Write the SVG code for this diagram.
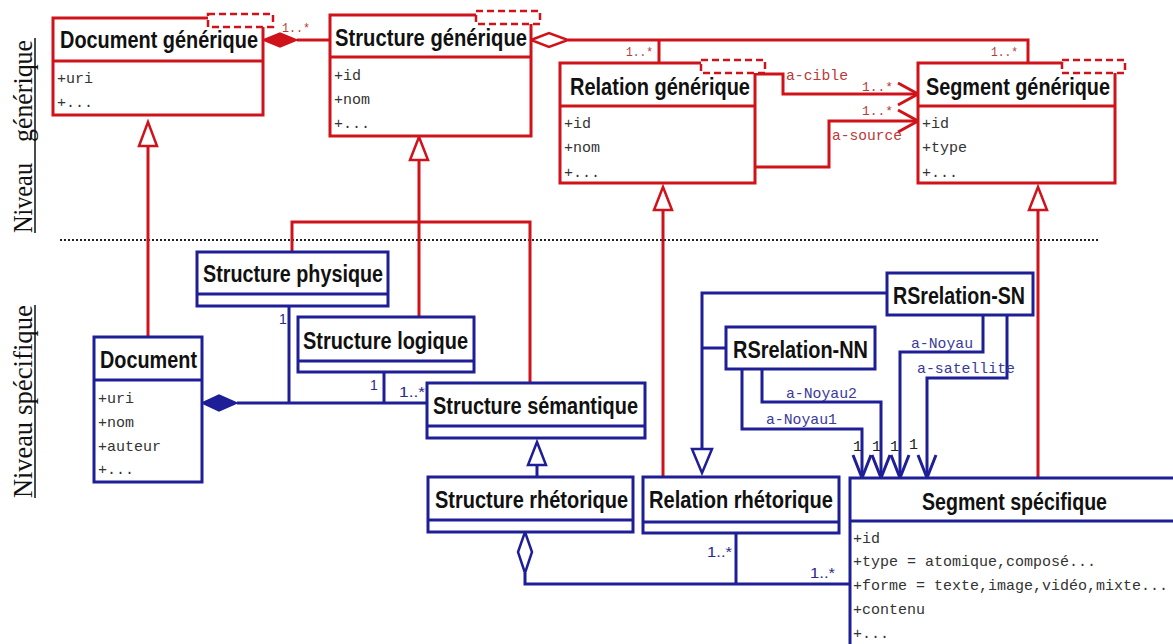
<svg xmlns="http://www.w3.org/2000/svg" width="1173" height="644" viewBox="0 0 1173 644">
<style>
.rbox{fill:#fff;stroke:#d0121b;stroke-width:3}
.bbox{fill:#fff;stroke:#1e1e96;stroke-width:3}
.rdiv{stroke:#d0121b;stroke-width:3}
.bdiv{stroke:#1e1e96;stroke-width:3}
.dash{fill:#fff;stroke:#d0121b;stroke-width:2.5;stroke-dasharray:7 4}
.title{font-family:"Liberation Sans",Arial,sans-serif;font-weight:bold;font-size:21px;fill:#111}
.attr{font-family:"Liberation Mono","Courier New",monospace;font-size:15px;fill:#333}
.rlab{font-family:"Liberation Mono","Courier New",monospace;font-size:15px;fill:#b83a3a}
.rmul{font-family:"Liberation Mono","Courier New",monospace;font-size:13px;fill:#b83a3a}
.blab{font-family:"Liberation Mono","Courier New",monospace;font-size:15px;fill:#3a3a9a}
.bmul{font-family:"Liberation Sans",Arial,sans-serif;font-size:14px;fill:#2a2a8a}
.one{font-family:"Liberation Mono","Courier New",monospace;font-size:15px;fill:#222}
.rl{fill:none;stroke:#d0121b;stroke-width:3}
.bl{fill:none;stroke:#1e1e96;stroke-width:3}
.rtri{fill:#fff;stroke:#d0121b;stroke-width:2.5}
.btri{fill:#fff;stroke:#1e1e96;stroke-width:2.5}
.lvl{font-family:"Liberation Serif","Times New Roman",serif;font-size:28px;fill:#111}
</style>

<g id="levels">
  <text class="lvl" transform="translate(32,233) rotate(-90)" textLength="70" lengthAdjust="spacingAndGlyphs">Niveau</text>
  <text class="lvl" transform="translate(32,142) rotate(-90)" textLength="102" lengthAdjust="spacingAndGlyphs">générique</text>
  <line x1="35" y1="38" x2="35" y2="233" stroke="#111" stroke-width="1.5"/>
  <text class="lvl" transform="translate(32,498) rotate(-90)" textLength="76" lengthAdjust="spacingAndGlyphs">Niveau</text>
  <text class="lvl" transform="translate(32,415) rotate(-90)" textLength="110" lengthAdjust="spacingAndGlyphs">spécifique</text>
  <line x1="35" y1="305" x2="35" y2="498" stroke="#111" stroke-width="1.5"/>
  <line x1="60" y1="240" x2="1100" y2="240" stroke="#222" stroke-width="2" stroke-dasharray="2 2"/>
</g>

<g id="connectors">
  <!-- generic level -->
  <line class="rl" x1="297" y1="40" x2="330" y2="40"/>
  <polygon points="263,40 280,33 297,40 280,47" fill="#d0121b" stroke="#d0121b" stroke-width="1.5"/>
  <text class="rmul" x="282" y="32" textLength="28" lengthAdjust="spacingAndGlyphs">1..*</text>
  <polyline class="rl" points="568,40 1028,40 1028,63"/>
  <line class="rl" x1="659" y1="40" x2="659" y2="63"/>
  <polygon points="531,40 549,33 568,40 549,47" fill="#fff" stroke="#d0121b" stroke-width="2.5"/>
  <text class="rmul" x="626" y="56" textLength="27" lengthAdjust="spacingAndGlyphs">1..*</text>
  <text class="rmul" x="991" y="56" textLength="27" lengthAdjust="spacingAndGlyphs">1..*</text>
  <polyline class="rl" points="755,74 783,74 783,94 918,94"/>
  <polyline class="rl" points="898,83 918,94 898,105"/>
  <polyline class="rl" points="755,167 829,167 829,121 918,121"/>
  <polyline class="rl" points="898,110 918,121 898,132"/>
  <text class="rlab" x="786" y="80" textLength="62" lengthAdjust="spacingAndGlyphs">a-cible</text>
  <text class="rmul" x="862" y="91" textLength="31" lengthAdjust="spacingAndGlyphs">1..*</text>
  <text class="rmul" x="862" y="115" textLength="31" lengthAdjust="spacingAndGlyphs">1..*</text>
  <text class="rlab" x="832" y="140" textLength="70" lengthAdjust="spacingAndGlyphs">a-source</text>

  <!-- generalizations generic -->
  <line class="rl" x1="148" y1="146" x2="148" y2="337"/>
  <polygon class="rtri" points="148,122 139,146 157,146"/>
  <line class="rl" x1="419" y1="160" x2="419" y2="317"/>
  <polyline class="rl" points="292,252 292,222 530,222 530,383"/>
  <polygon class="rtri" points="419,137 410,160 428,160"/>
  <line class="rl" x1="663" y1="210" x2="663" y2="477"/>
  <polygon class="rtri" points="663,187 654,210 672,210"/>
  <line class="rl" x1="1038" y1="210" x2="1038" y2="478"/>
  <polygon class="rtri" points="1038,187 1029,210 1047,210"/>

  <!-- specific level -->
  <line class="bl" x1="237" y1="403" x2="427" y2="403"/>
  <line class="bl" x1="289" y1="306" x2="289" y2="403"/>
  <line class="bl" x1="384" y1="372" x2="384" y2="403"/>
  <polygon points="202,403 219,395 237,403 219,411" fill="#1e1e96" stroke="#1e1e96" stroke-width="1.5"/>
  <text class="bmul" x="279" y="324">1</text>
  <text class="bmul" x="370" y="390">1</text>
  <text class="bmul" x="399" y="397" textLength="26" lengthAdjust="spacingAndGlyphs">1..*</text>

  <line class="bl" x1="537" y1="465" x2="537" y2="477"/>
  <polygon class="btri" points="537,442 528,465 546,465"/>

  <polyline class="bl" points="525,573 525,584 849,584"/>
  <line class="bl" x1="736" y1="533" x2="736" y2="584"/>
  <polygon points="525,532 532,552 525,573 518,552" fill="#fff" stroke="#1e1e96" stroke-width="2.5"/>
  <text class="bmul" x="707" y="557" textLength="25" lengthAdjust="spacingAndGlyphs">1..*</text>
  <text class="bmul" x="810" y="578" textLength="25" lengthAdjust="spacingAndGlyphs">1..*</text>

  <polyline class="bl" points="887,293 702,293 702,449"/>
  <line class="bl" x1="702" y1="348" x2="726" y2="348"/>
  <polygon class="btri" points="692,449 712,449 702,473"/>

  <polyline class="bl" points="742,369 742,429 862,429 862,478"/>
  <polyline class="bl" points="762,369 762,402 881,402 881,478"/>
  <polyline class="bl" points="983,315 983,352 900,352 900,478"/>
  <polyline class="bl" points="1007,315 1007,378 927,378 927,478"/>
  <polyline class="bl" points="853,455 862,478 871,455"/>
  <polyline class="bl" points="872,455 881,478 890,455"/>
  <polyline class="bl" points="891,455 900,478 909,455"/>
  <polyline class="bl" points="918,455 927,478 936,455"/>
  <text class="blab" x="766" y="424" textLength="71" lengthAdjust="spacingAndGlyphs">a-Noyau1</text>
  <text class="blab" x="786" y="398" textLength="71" lengthAdjust="spacingAndGlyphs">a-Noyau2</text>
  <text class="blab" x="911" y="348" textLength="62" lengthAdjust="spacingAndGlyphs">a-Noyau</text>
  <text class="blab" x="917" y="373" textLength="98" lengthAdjust="spacingAndGlyphs">a-satellite</text>
  <text class="one" x="853" y="451">1</text>
  <text class="one" x="872" y="451">1</text>
  <text class="one" x="890" y="451">1</text>
  <text class="one" x="909" y="449">1</text>
</g>

<g id="document-generique">
  <rect class="rbox" x="53" y="18" width="210" height="97"/>
  <line class="rdiv" x1="53" y1="61" x2="263" y2="61"/>
  <rect class="dash" x="208" y="14" width="65" height="13"/>
  <text class="title" transform="translate(60,48) scale(1,1.18)" textLength="198" lengthAdjust="spacingAndGlyphs">Document générique</text>
  <text class="attr" x="57" y="83">+uri</text>
  <text class="attr" x="57" y="107">+...</text>
</g>

<g id="structure-generique">
  <rect class="rbox" x="330" y="15" width="201" height="121"/>
  <line class="rdiv" x1="330" y1="57" x2="531" y2="57"/>
  <rect class="dash" x="476" y="11" width="64" height="13"/>
  <text class="title" transform="translate(335,46) scale(1,1.18)" textLength="192" lengthAdjust="spacingAndGlyphs">Structure générique</text>
  <text class="attr" x="334" y="80">+id</text>
  <text class="attr" x="334" y="104">+nom</text>
  <text class="attr" x="334" y="128">+...</text>
</g>

<g id="relation-generique">
  <rect class="rbox" x="560" y="63" width="195" height="120"/>
  <line class="rdiv" x1="560" y1="106" x2="755" y2="106"/>
  <rect class="dash" x="701" y="60" width="64" height="13"/>
  <text class="title" transform="translate(570,95) scale(1,1.18)" textLength="180" lengthAdjust="spacingAndGlyphs">Relation générique</text>
  <text class="attr" x="564" y="128">+id</text>
  <text class="attr" x="564" y="152">+nom</text>
  <text class="attr" x="564" y="177">+...</text>
</g>

<g id="segment-generique">
  <rect class="rbox" x="918" y="63" width="197" height="120"/>
  <line class="rdiv" x1="918" y1="106" x2="1115" y2="106"/>
  <rect class="dash" x="1062" y="60" width="63" height="13"/>
  <text class="title" transform="translate(926,95) scale(1,1.18)" textLength="184" lengthAdjust="spacingAndGlyphs">Segment générique</text>
  <text class="attr" x="922" y="128">+id</text>
  <text class="attr" x="922" y="152">+type</text>
  <text class="attr" x="922" y="177">+...</text>
</g>

<g id="structure-physique">
  <rect class="bbox" x="197" y="252" width="191" height="54"/>
  <line class="bdiv" x1="197" y1="294" x2="388" y2="294"/>
  <text class="title" transform="translate(203,282) scale(1,1.18)" textLength="180" lengthAdjust="spacingAndGlyphs">Structure physique</text>
</g>

<g id="structure-logique">
  <rect class="bbox" x="298" y="317" width="176" height="55"/>
  <line class="bdiv" x1="298" y1="361" x2="474" y2="361"/>
  <text class="title" transform="translate(303,349) scale(1,1.18)" textLength="165" lengthAdjust="spacingAndGlyphs">Structure logique</text>
</g>

<g id="document">
  <rect class="bbox" x="94" y="337" width="108" height="145"/>
  <line class="bdiv" x1="94" y1="380" x2="202" y2="380"/>
  <text class="title" transform="translate(100,368) scale(1,1.18)" textLength="97" lengthAdjust="spacingAndGlyphs">Document</text>
  <text class="attr" x="98" y="403">+uri</text>
  <text class="attr" x="98" y="427">+nom</text>
  <text class="attr" x="98" y="451">+auteur</text>
  <text class="attr" x="98" y="474">+...</text>
</g>

<g id="structure-semantique">
  <rect class="bbox" x="427" y="383" width="218" height="55"/>
  <line class="bdiv" x1="427" y1="426" x2="645" y2="426"/>
  <text class="title" transform="translate(433,414) scale(1,1.18)" textLength="205" lengthAdjust="spacingAndGlyphs">Structure sémantique</text>
</g>

<g id="structure-rhetorique">
  <rect class="bbox" x="428" y="477" width="205" height="55"/>
  <line class="bdiv" x1="428" y1="520" x2="633" y2="520"/>
  <text class="title" transform="translate(435,508) scale(1,1.18)" textLength="193" lengthAdjust="spacingAndGlyphs">Structure rhétorique</text>
</g>

<g id="relation-rhetorique">
  <rect class="bbox" x="643" y="477" width="196" height="56"/>
  <line class="bdiv" x1="643" y1="522" x2="839" y2="522"/>
  <text class="title" transform="translate(649,508) scale(1,1.18)" textLength="184" lengthAdjust="spacingAndGlyphs">Relation rhétorique</text>
</g>

<g id="rsrelation-sn">
  <rect class="bbox" x="887" y="273" width="146" height="42"/>
  <text class="title" transform="translate(893,304) scale(1,1.18)" textLength="132" lengthAdjust="spacingAndGlyphs">RSrelation-SN</text>
</g>

<g id="rsrelation-nn">
  <rect class="bbox" x="726" y="327" width="149" height="42"/>
  <text class="title" transform="translate(733,358) scale(1,1.18)" textLength="135" lengthAdjust="spacingAndGlyphs">RSrelation-NN</text>
</g>

<g id="segment-specifique">
  <rect class="bbox" x="850" y="478" width="340" height="200"/>
  <line class="bdiv" x1="850" y1="521" x2="1190" y2="521"/>
  <text class="title" transform="translate(922,510) scale(1,1.18)" textLength="185" lengthAdjust="spacingAndGlyphs">Segment spécifique</text>
  <text class="attr" x="853" y="543">+id</text>
  <text class="attr" x="853" y="566">+type = atomique,composé...</text>
  <text class="attr" x="853" y="590">+forme = texte,image,vidéo,mixte...</text>
  <text class="attr" x="853" y="614">+contenu</text>
  <text class="attr" x="853" y="638">+...</text>
</g>
</svg>
